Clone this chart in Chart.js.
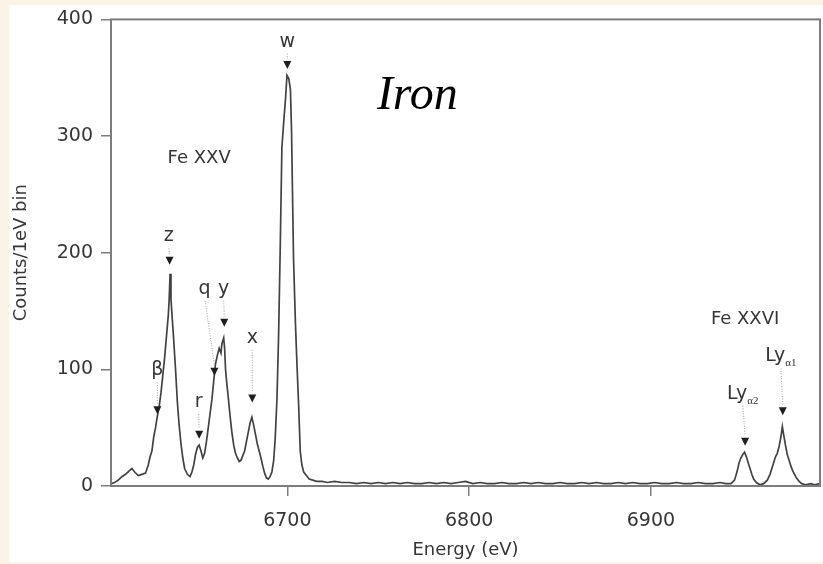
<!DOCTYPE html>
<html lang="en">
<head>
  <meta charset="UTF-8">
  <title>Iron</title>
  <script src="https://cdn.jsdelivr.net/npm/chart.js"></script>
  <style>
    html, body { margin: 0; padding: 0; background: #fbf3e6; }
    canvas { display: block; }
  </style>
</head>
<body>
  <canvas id="spectrum" width="823" height="564"></canvas>
  <script>
    // Fe XXV / Fe XXVI spectrum, counts per 1 eV bin
    const energies = [
      6603, 6605, 6607, 6609, 6611, 6613, 6614.5, 6616, 6618, 6620, 6622, 6623.5, 6624.5, 6625.5,
      6626.5, 6627.5, 6628.5, 6629.5, 6630.5, 6631.5, 6632.5, 6633.5, 6634.5, 6635, 6635.5, 6636,
      6636.5, 6637.5, 6638.5, 6639.5, 6640.5, 6641.5, 6642.5, 6643.5, 6645, 6646.5, 6647.5, 6648.5,
      6649.5, 6650.5, 6651.5, 6652.5, 6653.5, 6654.5, 6655.5, 6656.5, 6657.5, 6658.5, 6659.5, 6660.5,
      6661.5, 6662.5, 6663.5, 6664, 6665, 6665.5, 6666, 6666.7, 6667.5, 6668.5, 6669.5, 6670.5,
      6671.5, 6672.5, 6673.5, 6674.5, 6675.5, 6676.5, 6677.5, 6678.5, 6679.5, 6680.5, 6681.5, 6682.5,
      6683.5, 6684.5, 6685.5, 6686.5, 6687.5, 6688.5, 6689.5, 6690.5, 6691.5, 6692.5, 6693.3, 6694.3,
      6695.2, 6696.1, 6697, 6698, 6699, 6699.8, 6700.8, 6701.7, 6702.3, 6702.8, 6703.4, 6704.4,
      6705.3, 6706.2, 6707.1, 6708, 6709, 6710.5, 6712, 6714, 6716, 6719, 6722, 6726, 6730, 6734,
      6738, 6742, 6746, 6750, 6754, 6758, 6762, 6766, 6770, 6774, 6778, 6782, 6786, 6790, 6794,
      6798, 6802, 6806, 6810, 6814, 6818, 6822, 6826, 6830, 6834, 6838, 6842, 6846, 6850, 6854,
      6858, 6862, 6866, 6870, 6874, 6878, 6882, 6886, 6890, 6894, 6898, 6902, 6906, 6910, 6914,
      6918, 6922, 6926, 6930, 6934, 6938, 6941, 6944, 6946, 6947.5, 6948.5, 6949.5, 6950.5, 6951.5,
      6952.5, 6953.5, 6954.5, 6955.5, 6956.5, 6958, 6960, 6962, 6964, 6965.5, 6966.5, 6967.5,
      6968.5, 6969.5, 6970.5, 6971.5, 6972.3, 6973, 6974, 6975, 6976, 6977, 6978, 6979, 6980,
      6981.5, 6983, 6985, 6988, 6990, 6993
    ];
    const counts = [
      2, 3, 5, 8, 10, 13, 15, 12, 9, 10, 11, 18, 25, 30,
      42, 50, 60, 68, 80, 95, 110, 128, 146, 160, 182, 160,
      148, 125, 100, 72, 52, 36, 24, 15, 10, 8, 12, 18,
      27, 33, 35, 30, 24, 28, 38, 50, 62, 74, 90, 105,
      112, 118, 114, 122, 127, 118, 100, 88, 76, 60, 46, 35,
      28, 24, 21, 22, 26, 30, 38, 46, 54, 59, 52, 44,
      36, 30, 24, 17, 11, 7, 6, 8, 12, 22, 40, 75,
      130, 205, 290, 312, 332, 352, 349, 340, 305, 255, 195, 142,
      104, 70, 30, 18, 12, 9, 6, 5, 4, 4, 3, 4, 3, 3,
      2, 3, 2, 3, 2, 3, 2, 3, 2, 2, 3, 2, 3, 2, 3,
      4, 2, 3, 2, 2, 3, 2, 2, 3, 2, 3, 2, 2, 3, 2,
      2, 3, 2, 3, 2, 2, 3, 2, 3, 2, 2, 3, 2, 2, 3,
      2, 2, 3, 2, 2, 3, 2, 2, 5, 13, 20, 24, 27, 29,
      25, 20, 15, 10, 6, 3, 1, 2, 5, 10, 15, 20,
      25, 28, 34, 42, 51, 44, 35, 27, 22, 17, 13, 10, 7,
      4, 2, 1, 2, 1, 2
    ];
    const xTicks = [6700, 6800, 6900];
    const yTicks = [0, 100, 200, 300, 400];

    // line identifications: label centre (le, lc) and arrow (me, mc) in data units
    const lineMarks = [
      { text: 'β', le: 6628.5, lc: 99, me: 6628.5, mc: 65 },
      { text: 'z', le: 6634.8, lc: 214, me: 6635.2, mc: 193 },
      { text: 'r', le: 6651.2, lc: 72, me: 6651.5, mc: 44 },
      { text: 'q', le: 6654.5, lc: 169, me: 6659.9, mc: 98 },
      { text: 'y', le: 6665, lc: 169, me: 6665.3, mc: 140 },
      { text: 'x', le: 6680.7, lc: 127, me: 6680.7, mc: 75 },
      { text: 'w', le: 6700, lc: 381, me: 6700, mc: 361 },
      { text: 'Ly', sub: 'α2', le: 6950.5, lc: 79, me: 6951.8, mc: 38 },
      { text: 'Ly', sub: 'α1', le: 6971.5, lc: 111, me: 6972.5, mc: 64 }
    ];
    const ionLabels = [
      { text: 'Fe XXV', e: 6651.5, c: 281 },
      { text: 'Fe XXVI', e: 6951.8, c: 143 }
    ];

    const SANS = "'DejaVu Sans', sans-serif";
    const INK = '#363636';

    const spectrumDecor = {
      id: 'spectrumDecor',
      beforeDraw(chart) {
        const c = chart.ctx;
        c.save();
        c.fillStyle = '#fbf3e6';
        c.fillRect(0, 0, chart.width, chart.height);
        c.fillStyle = '#ffffff';
        c.fillRect(9, 5, chart.width - 9, chart.height - 7);
        c.restore();
      },
      afterDraw(chart) {
        const c = chart.ctx;
        const xs = chart.scales.x, ys = chart.scales.y;
        const a = chart.chartArea;
        c.save();
        // frame
        c.strokeStyle = '#7c7c7c';
        c.lineWidth = 2;
        c.strokeRect(a.left, a.top, a.right - a.left, a.bottom - a.top);

        c.textAlign = 'center';
        c.textBaseline = 'middle';
        for (const m of lineMarks) {
          const lx = xs.getPixelForValue(m.le), ly = ys.getPixelForValue(m.lc);
          const mx = xs.getPixelForValue(m.me), my = ys.getPixelForValue(m.mc);
          // dotted leader
          const y0 = ly + 12, y1 = my - 6;
          if (y1 - y0 > 3) {
            c.strokeStyle = '#a0a0a0';
            c.lineWidth = 1;
            c.setLineDash([1, 1.5]);
            c.beginPath();
            c.moveTo(lx + (mx - lx) * 0.05, y0);
            c.lineTo(mx, y1);
            c.stroke();
            c.setLineDash([]);
          }
          // arrow head
          c.fillStyle = '#1e1e1e';
          c.beginPath();
          c.moveTo(mx - 4, my - 4);
          c.lineTo(mx + 4, my - 4);
          c.lineTo(mx, my + 4);
          c.closePath();
          c.fill();
          // label
          c.fillStyle = INK;
          c.font = '19px ' + SANS;
          if (m.sub) {
            const w1 = c.measureText(m.text).width;
            c.font = "11px 'Liberation Serif', serif";
            const w2 = c.measureText(m.sub).width;
            const x0 = lx - (w1 + w2) / 2;
            c.textAlign = 'left';
            c.font = '19px ' + SANS;
            c.fillText(m.text, x0, ly);
            c.font = "11px 'Liberation Serif', serif";
            c.fillText(m.sub, x0 + w1, ly + 7);
            c.textAlign = 'center';
          } else {
            c.fillText(m.text, lx, ly);
          }
        }
        c.font = '18px ' + SANS;
        c.fillStyle = INK;
        for (const t of ionLabels) {
          c.fillText(t.text, xs.getPixelForValue(t.e), ys.getPixelForValue(t.c));
        }
        c.fillStyle = '#000';
        c.font = "italic 48px 'Liberation Serif', serif";
        c.fillText('Iron', xs.getPixelForValue(6771.5), ys.getPixelForValue(334));
        c.restore();
      }
    };

    new Chart(document.getElementById('spectrum'), {
      type: 'line',
      data: {
        datasets: [{
          data: energies.map((e, i) => ({ x: e, y: counts[i] })),
          borderColor: '#424242',
          borderWidth: 1.7,
          pointRadius: 0,
          tension: 0,
          fill: false
        }]
      },
      options: {
        responsive: false,
        animation: false,
        events: [],
        layout: { padding: { left: 5, top: 17, right: 3, bottom: 0 } },
        plugins: { legend: { display: false }, tooltip: { enabled: false } },
        scales: {
          x: {
            type: 'linear',
            min: 6603,
            max: 6993,
            afterBuildTicks: axis => { axis.ticks = xTicks.map(v => ({ value: v })); },
            afterFit: axis => { axis.height = 78; },
            border: { display: false },
            grid: { drawOnChartArea: false, drawTicks: true, tickLength: 10, color: '#7c7c7c', lineWidth: 1.5 },
            ticks: { padding: 14, color: INK, font: { family: SANS, size: 19 }, callback: v => String(v) },
            title: { display: true, text: 'Energy (eV)', color: INK, font: { family: SANS, size: 18 }, padding: { top: 0, bottom: 3 } }
          },
          y: {
            min: 0,
            max: 400,
            afterBuildTicks: axis => { axis.ticks = yTicks.map(v => ({ value: v })); },
            afterFit: axis => { axis.width = 106; },
            border: { display: false },
            grid: { drawOnChartArea: false, drawTicks: true, tickLength: 10, color: '#7c7c7c', lineWidth: 1.5 },
            ticks: { padding: 8, color: INK, font: { family: SANS, size: 19 } },
            title: { display: true, text: 'Counts/1eV bin', color: INK, font: { family: SANS, size: 18 }, padding: { top: 6, bottom: 0 } }
          }
        }
      },
      plugins: [spectrumDecor]
    });
  </script>
</body>
</html>
